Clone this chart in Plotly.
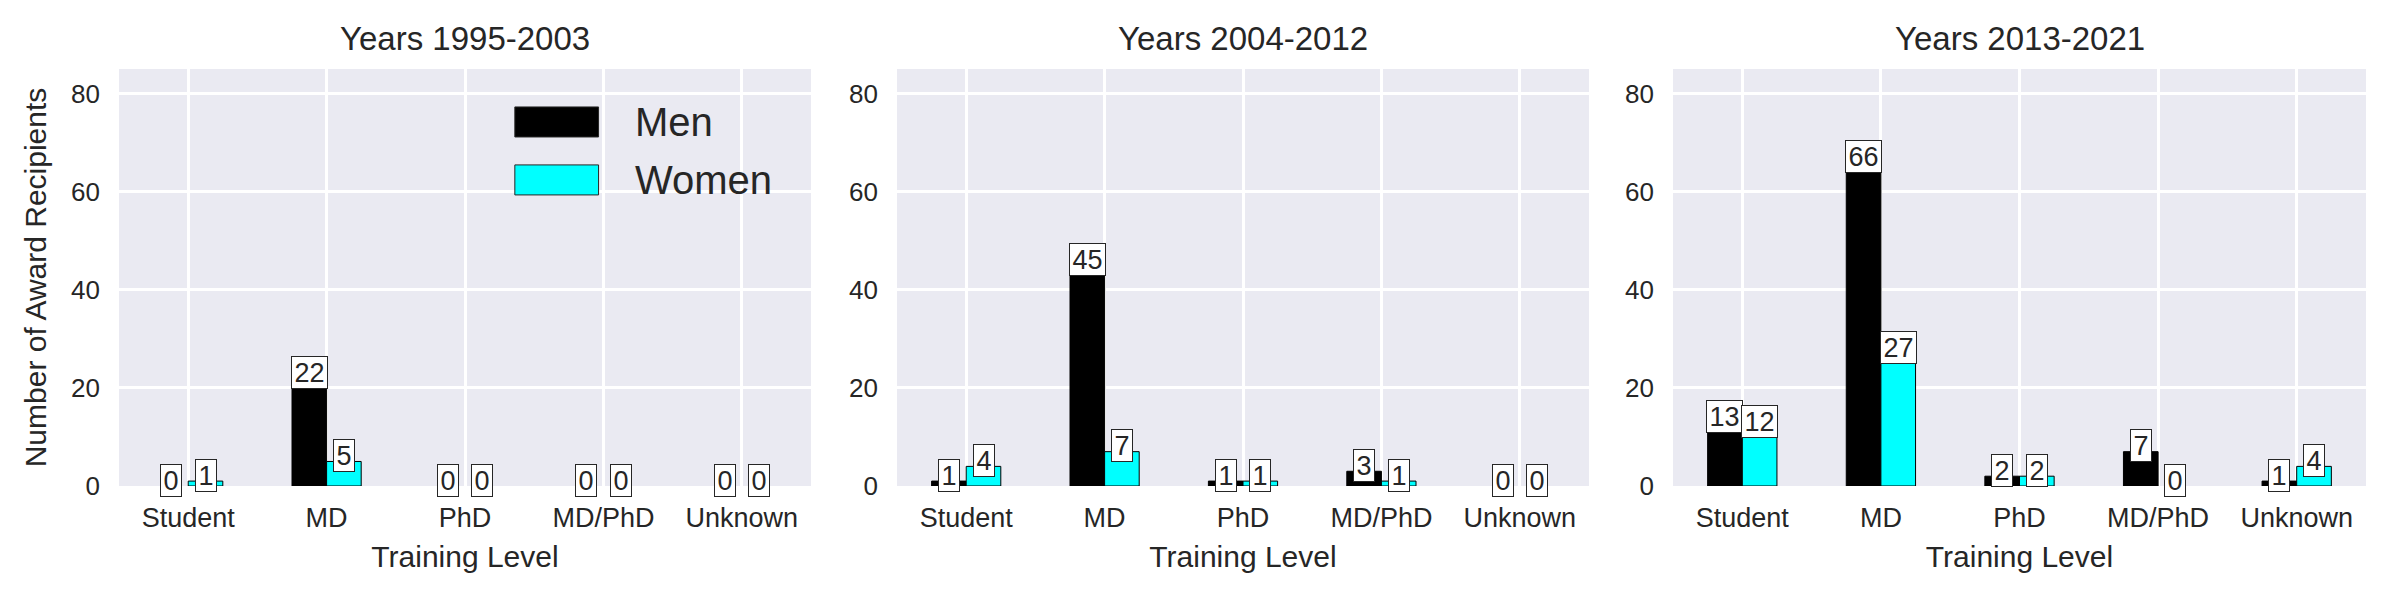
import plotly.graph_objects as go

categories = ["Student", "MD", "PhD", "MD/PhD", "Unknown"]
panel_titles = ["Years 1995-2003", "Years 2004-2012", "Years 2013-2021"]
men_1995_2003 = [0, 22, 0, 0, 0]
women_1995_2003 = [1, 5, 0, 0, 0]
men_2004_2012 = [1, 45, 1, 3, 0]
women_2004_2012 = [4, 7, 1, 1, 0]
men_2013_2021 = [13, 66, 2, 7, 1]
women_2013_2021 = [12, 27, 2, 0, 4]
y_ticks = [0, 20, 40, 60, 80]

men_series = [men_1995_2003, men_2004_2012, men_2013_2021]
women_series = [women_1995_2003, women_2004_2012, women_2013_2021]

FONT = "Liberation Sans, Arial, sans-serif"
TXT = "#262626"
BG = "#EAEAF2"
CYAN = "#00FFFF"

fig = go.Figure()

domains = [[0.0, 0.30797], [0.34624, 0.65421], [0.69159, 1.0]]
xpos = list(range(len(categories)))


def edge_widths(values):
    # no outline for zero-height bars (matplotlib shows nothing there)
    return [1 if v else 0 for v in values]


for i in range(3):
    ax = "" if i == 0 else str(i + 1)
    xref = "x" + ax
    yref = "y" + ax
    fig.add_trace(go.Bar(
        x=xpos, y=men_series[i], name="Men",
        marker=dict(color="black", line=dict(color="black", width=edge_widths(men_series[i]))),
        xaxis=xref, yaxis=yref, showlegend=False, offset=-0.25, width=0.25,
    ))
    fig.add_trace(go.Bar(
        x=xpos, y=women_series[i], name="Women",
        marker=dict(color=CYAN, line=dict(color="black", width=edge_widths(women_series[i]))),
        xaxis=xref, yaxis=yref, showlegend=False, offset=0.0, width=0.25,
    ))
    for j in xpos:
        for val, sh in ((men_series[i][j], -0.125), (women_series[i][j], 0.125)):
            txt = str(val)
            fig.add_annotation(
                x=j + sh, y=val, xref=xref, yref=yref, text=txt,
                showarrow=False, yshift=6,
                width=15 * len(txt) + 5, height=31,
                font=dict(family=FONT, size=27, color=TXT),
                bgcolor="white", bordercolor="#262626", borderwidth=1, borderpad=0,
            )
    fig.add_annotation(
        x=0.5, y=1, xref=xref + " domain", yref=yref + " domain",
        text=panel_titles[i], showarrow=False, yanchor="bottom", yshift=10,
        font=dict(family=FONT, size=33, color=TXT),
    )
    xaxis = dict(
        domain=domains[i], anchor=yref, range=[-0.5, 4.5],
        tickmode="array", tickvals=xpos, ticktext=categories,
        showgrid=True, gridcolor="white", gridwidth=2.7, zeroline=False,
        showline=False, ticks="", ticklabelstandoff=13,
        tickfont=dict(family=FONT, size=27, color=TXT),
        title=dict(text="Training Level", standoff=13,
                   font=dict(family=FONT, size=30, color=TXT)),
        automargin=False,
    )
    yaxis = dict(
        anchor=xref, range=[0, 85], tickvals=y_ticks,
        showgrid=True, gridcolor="white", gridwidth=2.7, zeroline=False,
        showline=False, ticks="", ticklabelstandoff=18,
        tickfont=dict(family=FONT, size=26, color=TXT), automargin=False,
    )
    if i == 0:
        yaxis["title"] = dict(text="Number of Award Recipients", standoff=15,
                              font=dict(family=FONT, size=30, color=TXT))
    fig.update_layout(**{"xaxis" + ax: xaxis, "yaxis" + ax: yaxis})

# legend drawn in the first panel with large swatches
legend_labels = ["Men", "Women"]
legend_colors = ["black", CYAN]
legend_y = [0.873, 0.734]
for label, col, yc in zip(legend_labels, legend_colors, legend_y):
    fig.add_shape(type="rect", xref="x domain", yref="y domain",
                  x0=0.572, x1=0.693, y0=yc - 0.036, y1=yc + 0.036,
                  fillcolor=col, line=dict(color="#262626", width=1))
    fig.add_annotation(x=0.743, y=yc, xref="x domain", yref="y domain",
                       text=label, showarrow=False, xanchor="left", yanchor="middle",
                       font=dict(family=FONT, size=40, color=TXT))

# page body has an 8px margin, so the figure is 8px smaller and margins shifted
fig.update_layout(
    width=2392, height=592,
    margin=dict(l=111, r=34, t=61, b=114, pad=0),
    paper_bgcolor="white", plot_bgcolor=BG,
    barmode="overlay",
    font=dict(family=FONT, color=TXT),
)

fig.write_html("out.html")
